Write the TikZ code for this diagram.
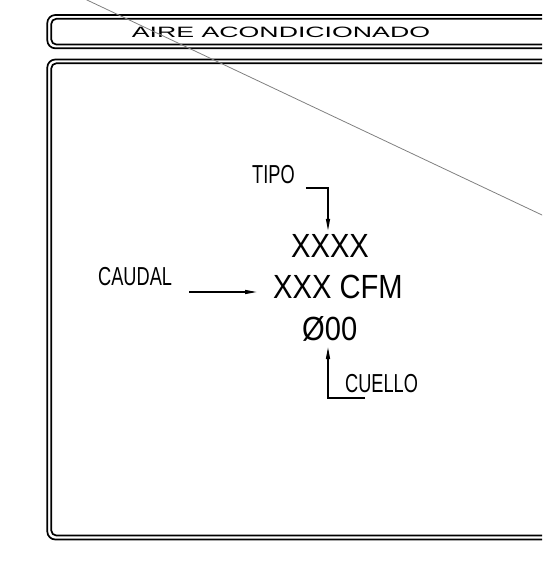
\documentclass[tikz,border=0pt]{standalone}
\usepackage{fontspec}
\setmainfont{Liberation Sans}
\newfontfamily\titlefont[FakeStretch=1.78]{Liberation Sans}
\newfontfamily\isofont[FakeStretch=0.7]{Liberation Sans}
\newfontfamily\isobig[FakeStretch=0.87]{Liberation Sans}
\usetikzlibrary{arrows.meta}

\tikzset{
  dblframe/.style={line width=1.7pt, rounded corners=#1},
  titletxt/.style={inner sep=0pt, font=\titlefont\fontsize{15}{18}\selectfont},
  lbl/.style={inner sep=0pt, font=\isofont\fontsize{26}{30}\selectfont},
  val/.style={inner sep=0pt, font=\isobig\fontsize{33.5}{38}\selectfont},
  leader/.style={line width=1.4pt, -{Triangle[length=12pt,width=4pt]}},
}

\begin{document}
\begin{tikzpicture}[x=1pt,y=-1pt]
    \useasboundingbox (0,0) rectangle (542,563);
    \clip (0,0) rectangle (542,563);

    % title strip
    \draw[dblframe=8pt] (47.3,15) rectangle (570,48.3);
    \draw[dblframe=5pt] (51.3,18.8) rectangle (570,44.5);
    \node[titletxt, anchor=base] (titulo) at (281,37.5) {AIRE ACONDICIONADO};

    % main panel
    \draw[dblframe=8pt] (47.3,59.5) rectangle (570,539.5);
    \draw[dblframe=5pt] (51.3,63.3) rectangle (570,535.5);

    \node[val, anchor=base] (tipoval) at (330,257) {XXXX};
    \node[val, anchor=base west] (flujo) at (273,298) {XXX CFM};
    \node[val, anchor=base west] (diam) at (302,340) {Ø00};

    \node[lbl, anchor=base west] (tipo) at (252,183) {TIPO};
    \node[lbl, anchor=base west] (caudal) at (98,285) {CAUDAL};
    \node[lbl, anchor=base west] (cuello) at (345,392) {CUELLO};

    \draw[leader] ([xshift=11pt,yshift=-5pt]tipo.base east) -| ([xshift=-2pt,yshift=3pt]tipoval.north);
    \draw[leader] ([xshift=17pt,yshift=-7pt]caudal.base east) -- ([xshift=-16pt,yshift=6pt]flujo.base west);
    \draw[leader] ([xshift=20pt,yshift=-6pt]cuello.base west) -| ([xshift=26pt,yshift=-7pt]diam.base west);

    \draw[gray, line width=0.8pt] (80,-3.3) -- (560,223.5);
\end{tikzpicture}
\end{document}
